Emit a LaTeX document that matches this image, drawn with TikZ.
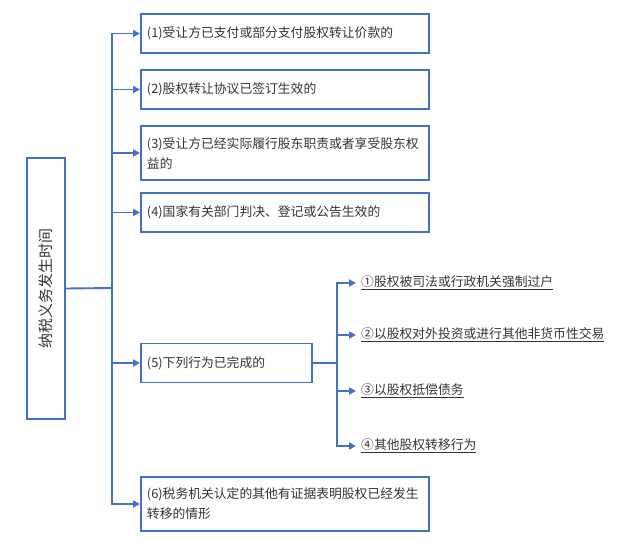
\documentclass[tikz,border=0pt]{standalone}
\usepackage{fontspec}
\setmainfont{Noto Sans CJK SC}
\usetikzlibrary{arrows.meta}
\definecolor{lineblue}{HTML}{4472C4}
\definecolor{textgray}{HTML}{333333}
\begin{document}
\begin{tikzpicture}[x=1pt, y=-1pt, >={Triangle[length=7pt,width=7pt]}]
    % Node styles
    \tikzstyle{rootbox} = [rectangle, draw=lineblue, line width=1.9pt, minimum width=38pt, minimum height=261pt, inner sep=0pt]
    \tikzstyle{itembox} = [rectangle, draw=lineblue, line width=1.9pt, anchor=west, minimum height=39pt, text width=276pt, inner xsep=6pt, align=left, text=textgray, font=\fontsize{12.8}{20}\selectfont]
    \tikzstyle{subitem} = [anchor=west, inner xsep=5pt, text=textgray, font=\fontsize{12.8}{20}\selectfont]
    \tikzstyle{link} = [draw=lineblue, line width=1.9pt]

    \useasboundingbox (0,0) rectangle (623,551);

    % Nodes
    \node[rootbox] (root) at (46,288.5) {};
    \node[rotate=90, text=textgray, font=\fontsize{15}{18}\selectfont] (roottext) at (root.center) {纳税义务发生时间};

    \node[itembox] (b1) at (140,33.5) {(1)受让方已支付或部分支付股权转让价款的};
    \node[itembox] (b2) at (140,89.5) {(2)股权转让协议已签订生效的};
    \node[itembox, minimum height=54pt] (b3) at (140,153) {(3)受让方已经实际履行股东职责或者享受股东权\\益的};
    \node[itembox] (b4) at (140,212.5) {(4)国家有关部门判决、登记或公告生效的};
    \node[itembox, text width=159pt] (b5) at (140,363) {(5)下列行为已完成的};
    \node[itembox, minimum height=54pt] (b6) at (140,504) {(6)税务机关认定的其他有证据表明股权已经发生\\转移的情形};

    \node[subitem] (s1) at (356,283) {\underline{①股权被司法或行政机关强制过户}};
    \node[subitem] (s2) at (356,335) {\underline{②以股权对外投资或进行其他非货币性交易}};
    \node[subitem] (s3) at (356,391) {\underline{③以股权抵偿债务}};
    \node[subitem] (s4) at (356,446) {\underline{④其他股权转移行为}};

    \coordinate (trunk) at (112,288);
    \coordinate (subtrunk) at (337,363);

    % Arrows
    \draw[link] (root.east) -- (trunk);
    \draw[link, ->] (trunk) |- (b1.west);
    \draw[link, ->] (trunk) |- (b2.west);
    \draw[link, ->] (trunk) |- (b3.west);
    \draw[link, ->] (trunk) |- (b4.west);
    \draw[link, ->] (trunk) |- (b5.west);
    \draw[link, ->] (trunk) |- (b6.west);

    \draw[link] (b5.east) -- (subtrunk);
    \draw[link, ->] (subtrunk) |- (s1.west);
    \draw[link, ->] (subtrunk) |- (s2.west);
    \draw[link, ->] (subtrunk) |- (s3.west);
    \draw[link, ->] (subtrunk) |- (s4.west);
\end{tikzpicture}
\end{document}
